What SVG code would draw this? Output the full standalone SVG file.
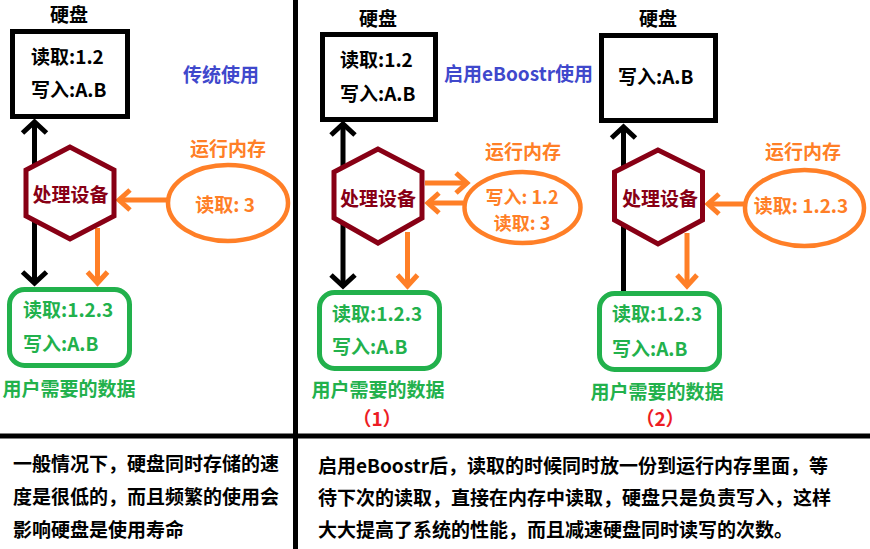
<svg xmlns="http://www.w3.org/2000/svg" width="870" height="549" viewBox="0 0 870 549">
<style>
text{font-family:"Noto Sans CJK SC","Liberation Sans",sans-serif;font-weight:bold;font-size:19px}
.k{fill:#000}.b{fill:#3f48cc}.o{fill:#ff7f27}.g{fill:#22b14c}.r{fill:#880015}.red{fill:#ed1c24}
.c{text-anchor:middle}
.sm{font-size:18px}
.box{fill:#fff;stroke:#000;stroke-width:5}
.hex{fill:#fff;stroke:#880015;stroke-width:5}
.ell{fill:#fff;stroke:#ff7f27;stroke-width:4.5}
.grn{fill:#fff;stroke:#22b14c;stroke-width:5}
.lk{stroke:#000;stroke-width:5;fill:none}
.lo{stroke:#ff7f27;stroke-width:5;fill:none}
.div{stroke:#000;stroke-width:5}
</style>
<defs>
<marker id="ak" markerUnits="userSpaceOnUse" viewBox="-16 -16 20 32" refX="0" refY="0" markerWidth="20" markerHeight="32" orient="auto-start-reverse" overflow="visible"><path d="M-11,-12 L0,0 L-11,12" fill="none" stroke="#000" stroke-width="5"/></marker>
<marker id="ao" markerUnits="userSpaceOnUse" viewBox="-16 -16 20 32" refX="0" refY="0" markerWidth="20" markerHeight="32" orient="auto-start-reverse" overflow="visible"><path d="M-11,-10 L0,0 L-11,10" fill="none" stroke="#ff7f27" stroke-width="5"/></marker>
</defs>

<g id="dividers">
<line class="div" x1="295.5" y1="0" x2="295.5" y2="549"/>
<line class="div" x1="0" y1="436" x2="870" y2="436"/>
</g>

<g id="connectors">
<line class="lk" x1="34.5" y1="122" x2="34.5" y2="283" marker-start="url(#ak)" marker-end="url(#ak)"/>
<line class="lo" x1="167" y1="200" x2="119" y2="200" marker-end="url(#ao)"/>
<line class="lo" x1="97.5" y1="228" x2="97.5" y2="283" marker-end="url(#ao)"/>
<line class="lk" x1="343" y1="124" x2="343" y2="286" marker-start="url(#ak)" marker-end="url(#ak)"/>
<line class="lo" x1="425" y1="183" x2="467" y2="183" marker-end="url(#ao)"/>
<line class="lo" x1="463" y1="203" x2="428" y2="203" marker-end="url(#ao)"/>
<line class="lo" x1="407.5" y1="232" x2="407.5" y2="286" marker-end="url(#ao)"/>
<line class="lk" x1="623.5" y1="291" x2="623.5" y2="127" marker-end="url(#ak)"/>
<line class="lo" x1="744" y1="204" x2="708" y2="204" marker-end="url(#ao)"/>
<line class="lo" x1="687" y1="233" x2="687" y2="286" marker-end="url(#ao)"/>
</g>

<g id="p1-disk">
<text class="k c" x="69" y="22">硬盘</text>
<rect class="box" x="12.5" y="31.5" width="115" height="85"/>
<text class="k" x="31" y="64">读取:1.2</text>
<text class="k" x="31" y="97">写入:A.B</text>
</g>
<g id="p1-title"><text class="b" x="183" y="82">传统使用</text></g>
<g id="p1-cpu">
<polygon class="hex" points="70,147 26,170 26,216 70,239 114,216 114,170"/>
<text class="r c" x="70.5" y="202">处理设备</text>
</g>
<g id="p1-ram">
<text class="o c" x="228" y="156">运行内存</text>
<ellipse class="ell" cx="228" cy="203" rx="60" ry="38"/>
<text class="o c" x="225" y="212">读取: 3</text>
</g>
<g id="p1-user">
<rect class="grn" x="9.5" y="289.5" width="120" height="76" rx="15"/>
<text class="g" x="23" y="317">读取:1.2.3</text>
<text class="g" x="23" y="351">写入:A.B</text>
<text class="g c" x="69" y="396">用户需要的数据</text>
</g>

<g id="p2-disk">
<text class="k c" x="378" y="26">硬盘</text>
<rect class="box" x="322.5" y="34.5" width="113" height="85"/>
<text class="k" x="340" y="67">读取:1.2</text>
<text class="k" x="340" y="101">写入:A.B</text>
</g>
<g id="p2-title"><text class="b" x="444" y="81">启用eBoostr使用</text></g>
<g id="p2-cpu">
<polygon class="hex" points="378,149 334,172 334,218 378,243 422,218 422,172"/>
<text class="r c" x="378" y="206">处理设备</text>
</g>
<g id="p2-ram">
<text class="o c" x="523" y="159">运行内存</text>
<ellipse class="ell" cx="522.5" cy="207.5" rx="58" ry="35.5"/>
<text class="o c sm" x="522" y="204">写入: 1.2</text>
<text class="o c sm" x="522" y="230">读取: 3</text>
</g>
<g id="p2-user">
<rect class="grn" x="319.5" y="292.5" width="120" height="76" rx="15"/>
<text class="g" x="332" y="321">读取:1.2.3</text>
<text class="g" x="332" y="354">写入:A.B</text>
<text class="g c" x="378" y="397">用户需要的数据</text>
<text class="red c" x="377" y="426">（1）</text>
</g>

<g id="p3-disk">
<text class="k c" x="658" y="26">硬盘</text>
<rect class="box" x="601.5" y="35.5" width="114" height="85"/>
<text class="k" x="618" y="84">写入:A.B</text>
</g>
<g id="p3-cpu">
<polygon class="hex" points="658,150 614.5,172 614.5,220 658,244 702.5,220 702.5,172"/>
<text class="r c" x="660" y="206">处理设备</text>
</g>
<g id="p3-ram">
<text class="o c" x="803" y="159">运行内存</text>
<ellipse class="ell" cx="804.5" cy="208" rx="59.5" ry="38"/>
<text class="o c" x="801" y="213">读取: 1.2.3</text>
</g>
<g id="p3-user">
<rect class="grn" x="599.5" y="293.5" width="120" height="76" rx="15"/>
<text class="g" x="612" y="321">读取:1.2.3</text>
<text class="g" x="612" y="356">写入:A.B</text>
<text class="g c" x="657" y="399">用户需要的数据</text>
<text class="red c" x="660" y="426">（2）</text>
</g>

<g id="note-left">
<text class="k" x="13" y="471">一般情况下，硬盘同时存储的速</text>
<text class="k" x="13" y="504">度是很低的，而且频繁的使用会</text>
<text class="k" x="13" y="537">影响硬盘是使用寿命</text>
</g>
<g id="note-right">
<text class="k" x="318" y="473">启用eBoostr后，读取的时候同时放一份到运行内存里面，等</text>
<text class="k" x="318" y="505">待下次的读取，直接在内存中读取，硬盘只是负责写入，这样</text>
<text class="k" x="318" y="537">大大提高了系统的性能，而且减速硬盘同时读写的次数。</text>
</g>
</svg>
